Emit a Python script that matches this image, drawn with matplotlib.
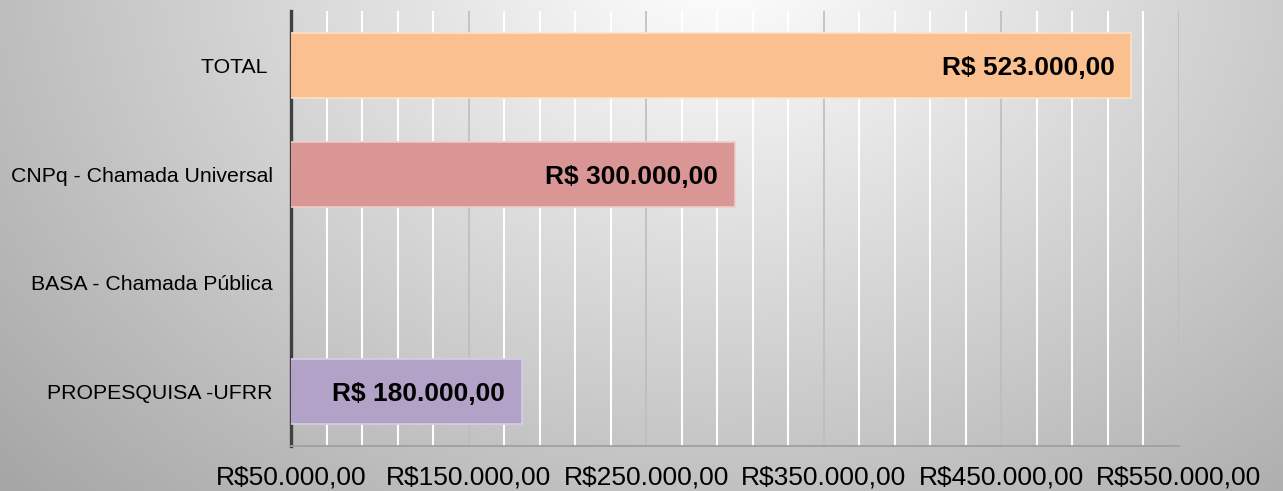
import numpy as np
import matplotlib.pyplot as plt
from matplotlib.ticker import MultipleLocator, FuncFormatter

# data
categorias = ['PROPESQUISA -UFRR', 'BASA - Chamada Pública', 'CNPq - Chamada Universal', 'TOTAL ']
valores = [180000, 0, 300000, 523000]
cores = ['#b3a2c7', '#8eb4e3', '#d99694', '#fac090']
bordas = ['#d9cde6', '#c6d9f1', '#f0cccb', '#fde0c6']
rotulos = ['R$ 180.000,00', '', 'R$ 300.000,00', 'R$ 523.000,00']

plt.rcParams['font.family'] = ['Liberation Sans', 'DejaVu Sans']

fig = plt.figure(figsize=(12.83, 4.91), dpi=100)

# fundo com gradiente radial
bg = fig.add_axes([0, 0, 1, 1], zorder=-10)
xx, yy = np.meshgrid(np.linspace(0, 1283, 400), np.linspace(0, 491, 160))
d = np.sqrt(((xx - 720) / 900) ** 2 + ((yy + 40) / 700) ** 2)
g = np.clip(1.0 - 0.32 * d, 0, 1)
bg.imshow(np.dstack([g, g, g]), aspect='auto', extent=[0, 1, 0, 1], origin='upper')
bg.axis('off')

ax = fig.add_axes([291 / 1283, 45 / 491, 888 / 1283, 435 / 491])
ax.set_facecolor('none')

y = np.arange(len(categorias))
ax.barh(y, valores, height=0.6, color=cores, edgecolor=bordas, linewidth=1.2, zorder=3)

for yi, v, r in zip(y, valores, rotulos):
    if r:
        ax.annotate(r, xy=(v, yi), xytext=(-12, -2), textcoords='offset points',
                    ha='right', va='center', fontsize=19, fontweight='bold', zorder=4)

ax.set_xlim(50000, 550000)
ax.set_ylim(-0.5, 3.5)
ax.xaxis.set_major_locator(MultipleLocator(100000, offset=50000))
ax.xaxis.set_minor_locator(MultipleLocator(20000, offset=10000))
ax.xaxis.set_major_formatter(FuncFormatter(lambda v, p: 'R$' + f'{v:,.2f}'.replace(',', 'X').replace('.', ',').replace('X', '.')))
ax.grid(which='major', axis='x', color='#bdbdbd', linewidth=1.2, zorder=1)
ax.grid(which='minor', axis='x', color='white', linewidth=1.5, zorder=1)
ax.set_axisbelow(True)

ax.set_yticks(y)
ax.set_yticklabels(categorias, fontsize=15.3)
ax.tick_params(axis='y', length=0, pad=13)
ax.tick_params(axis='x', which='both', length=0, pad=14, labelsize=19)

for s in ['top', 'right']:
    ax.spines[s].set_visible(False)
ax.spines['left'].set_color('#404040')
ax.spines['left'].set_linewidth(2.4)
ax.spines['bottom'].set_color('#a0a0a0')
ax.spines['bottom'].set_linewidth(1.3)

fig.savefig('out.png', dpi=100)
